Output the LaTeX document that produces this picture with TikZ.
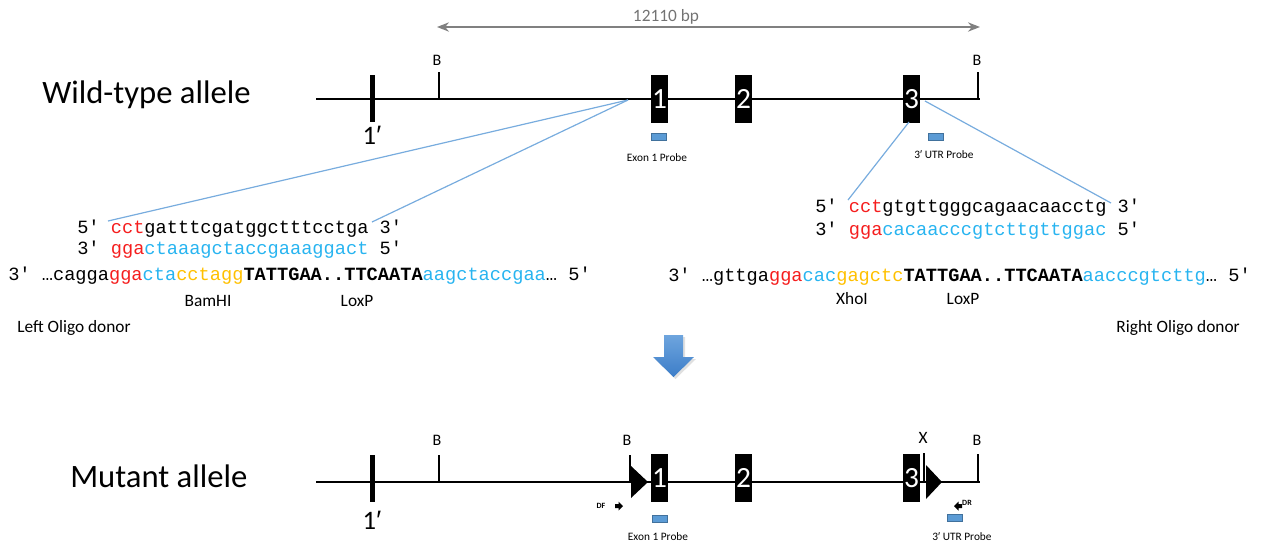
\documentclass[tikz,border=0pt]{standalone}
\usepackage{fontspec}
\setmainfont{Carlito}
\newfontfamily\seqfont{Liberation Mono}
\newfontfamily\primefont{Liberation Sans}
\usetikzlibrary{arrows.meta}
\definecolor{seqred}{RGB}{245,30,30}
\definecolor{seqblue}{RGB}{40,180,240}
\definecolor{seqorange}{RGB}{255,192,0}
\definecolor{linkblue}{RGB}{120,172,222}
\definecolor{probefill}{RGB}{91,155,213}
\definecolor{probedraw}{RGB}{65,113,156}
\definecolor{arrowtop}{RGB}{110,165,222}
\definecolor{arrowbot}{RGB}{60,125,200}
\newcommand{\R}[1]{\textcolor{seqred}{#1}}
\newcommand{\Bl}[1]{\textcolor{seqblue}{#1}}
\newcommand{\Or}[1]{\textcolor{seqorange}{#1}}
\newcommand{\Lx}{\textbf{TATTGAA..TTCAATA}}
\newcommand{\prm}{{\primefont ′}}
\begin{document}
\begin{tikzpicture}[x=0.75pt,y=-0.75pt,
  chrom/.style={line width=1.9pt},
  tick/.style={line width=0.8pt},
  exonbox/.style={fill=black,draw=none,minimum width=12.75pt,minimum height=36pt,inner sep=0pt,text=white,font=\fontsize{22}{22}\selectfont},
  barone/.style={fill=black,draw=none,minimum width=3.8pt,minimum height=35pt,inner sep=0pt},
  probe/.style={fill=probefill,draw=probedraw,line width=0.4pt,minimum width=11pt,minimum height=5pt,inner sep=0pt},
  probelab/.style={font=\fontsize{8.5}{9}\selectfont,inner sep=0pt},
  site/.style={font=\fontsize{12}{12}\selectfont,inner sep=0pt},
  seq/.style={font=\seqfont\fontsize{14}{14}\selectfont,inner sep=0pt,anchor=base west},
  seqlab/.style={font=\fontsize{13}{13}\selectfont,inner sep=0pt},
  allele/.style={font=\fontsize{24.5}{25}\selectfont,inner sep=0pt,anchor=west},
  onelab/.style={font=\fontsize{20}{20}\selectfont,inner sep=0pt},
  link/.style={draw=linkblue,line width=0.9pt},
  primer/.style={font=\bfseries\fontsize{6}{6}\selectfont,inner sep=0pt}]
\useasboundingbox (0,0) rectangle (1261,544);

% ---------------- Wild-type allele ----------------
\node[allele] (wtlab) at (42,95) {Wild-type allele};
\coordinate (wtS) at (316,99);
\coordinate (wtE) at (980,99);
\draw[chrom] (wtS) -- (wtE);
\node[barone] (wt1p) at (372.5,98.5) {};
\node[onelab] (wt1plab) at (372,135) {1\prm};
\node[site] (wtB1) at (437,60) {B};
\node[site] (wtB2) at (977,60) {B};
\draw[tick] (439,72) -- (439,99);
\draw[tick] (978,72) -- (978,99);
\node[exonbox] (wte1) at (659.5,99) {1};
\node[exonbox] (wte2) at (743.5,99) {2};
\node[exonbox] (wte3) at (911.5,99) {3};
\node[probe] (wtp1) at (658.5,136.5) {};
\node[probelab] (wtp1lab) at (657,158) {Exon 1 Probe};
\node[probe] (wtp3) at (936,137) {};
\node[probelab] (wtp3lab) at (944,155) {3\prm\ UTR Probe};
% size arrow
\coordinate (szL) at (437,27);
\coordinate (szR) at (980,27);
\draw[draw=gray,line width=1.1pt,{Stealth[length=9pt,width=7pt]}-{Stealth[length=9pt,width=7pt]}] (szL) -- (szR);
\node[font=\fontsize{13}{13}\selectfont,text=gray!90!black,inner sep=0pt] (szlab) at (666,17) {12110 bp};

% ---------------- Left oligo donor ----------------
\node[seq] (l1) at (77,233) {5′ \R{cct}gatttcgatggctttcctga 3′};
\node[seq] (l2) at (77,254) {3′ \R{gga}\Bl{ctaaagctaccgaaaggact} 5′};
\node[seq] (l3) at (8,280) {3′ …cagga\R{gga}\Bl{cta}\Or{cctagg}\Lx\Bl{aagctaccgaa}… 5′};
\node[seqlab] (bam) at (208,301) {BamHI};
\node[seqlab] (loxl) at (357,301) {LoxP};
\node[seqlab,anchor=west] (leftdon) at (17,328) {Left Oligo donor};
\coordinate (lsrc) at (628,100);
\coordinate (lA) at (108,221);
\coordinate (lB) at (372,222);
\draw[link] (lsrc) -- (lA);
\draw[link] (lsrc) -- (lB);

% ---------------- Right oligo donor ----------------
\node[seq] (r1) at (815,212) {5′ \R{cct}gtgttgggcagaacaacctg 3′};
\node[seq] (r2) at (815,235) {3′ \R{gga}\Bl{cacaacccgtcttgttggac} 5′};
\node[seq] (r3) at (668,281) {3′ …gttga\R{gga}\Bl{cac}\Or{gagctc}\Lx\Bl{aacccgtcttg}… 5′};
\node[seqlab] (xho) at (852,299) {XhoI};
\node[seqlab] (loxr) at (963,299) {LoxP};
\node[seqlab,anchor=east] (rightdon) at (1240,328) {Right Oligo donor};
\coordinate (rsrcA) at (909,122);
\coordinate (rsrcB) at (925,101);
\coordinate (rA) at (848,200);
\coordinate (rB) at (1111,203);
\draw[link] (rsrcA) -- (rA);
\draw[link] (rsrcB) -- (rB);

% ---------------- big arrow ----------------
\fill[black!12,xshift=1.5pt,yshift=-1.5pt]
  (664,335) -- (683,335) -- (683,357) -- (694,357) -- (673.5,377) -- (653,357) -- (664,357) -- cycle;
\shade[top color=arrowtop,bottom color=arrowbot]
  (664,335) -- (683,335) -- (683,357) -- (694,357) -- (673.5,377) -- (653,357) -- (664,357) -- cycle;

% ---------------- Mutant allele ----------------
\node[allele] (mulab) at (70,476) {Mutant allele};
\coordinate (muS) at (316,482);
\coordinate (muE) at (980,482);
\draw[chrom] (muS) -- (muE);
\node[barone] (mu1p) at (372.5,478.5) {};
\node[onelab] (mu1plab) at (372,520) {1\prm};
\node[site] (muB1) at (437,440) {B};
\node[site] (muB2) at (627,440) {B};
\node[site,font=\fontsize{13}{13}\selectfont] (muX) at (923,438) {X};
\node[site] (muB3) at (977,440) {B};
\draw[tick] (439,455) -- (439,482);
\draw[tick] (630,455) -- (630,482);
\draw[tick] (924,453) -- (924,482);
\draw[tick] (978,454) -- (978,482);
\fill (631,466) -- (648,482) -- (631,498) -- cycle;
\fill (926,465) -- (942,482) -- (926,499) -- cycle;
\node[exonbox] (mue1) at (659.5,478) {1};
\node[exonbox] (mue2) at (743.5,478) {2};
\node[exonbox] (mue3) at (911.5,478) {3};
\node[probe] (mup1) at (659.5,519) {};
\node[probelab] (mup1lab) at (658,537) {Exon 1 Probe};
\node[probe] (mup3) at (954.5,517.5) {};
\node[probelab] (mup3lab) at (962,537) {3\prm\ UTR Probe};
% primers
\node[primer] (df) at (601,506) {DF};
\fill (615,504) -- (618.5,504) -- (618.5,501.5) -- (623,506) -- (618.5,510.5) -- (618.5,508) -- (615,508) -- cycle;
\node[primer] (dr) at (967,503) {DR};
\fill (962,504) -- (958.5,504) -- (958.5,501.5) -- (954,506) -- (958.5,510.5) -- (958.5,508) -- (962,508) -- cycle;
\end{tikzpicture}
\end{document}
